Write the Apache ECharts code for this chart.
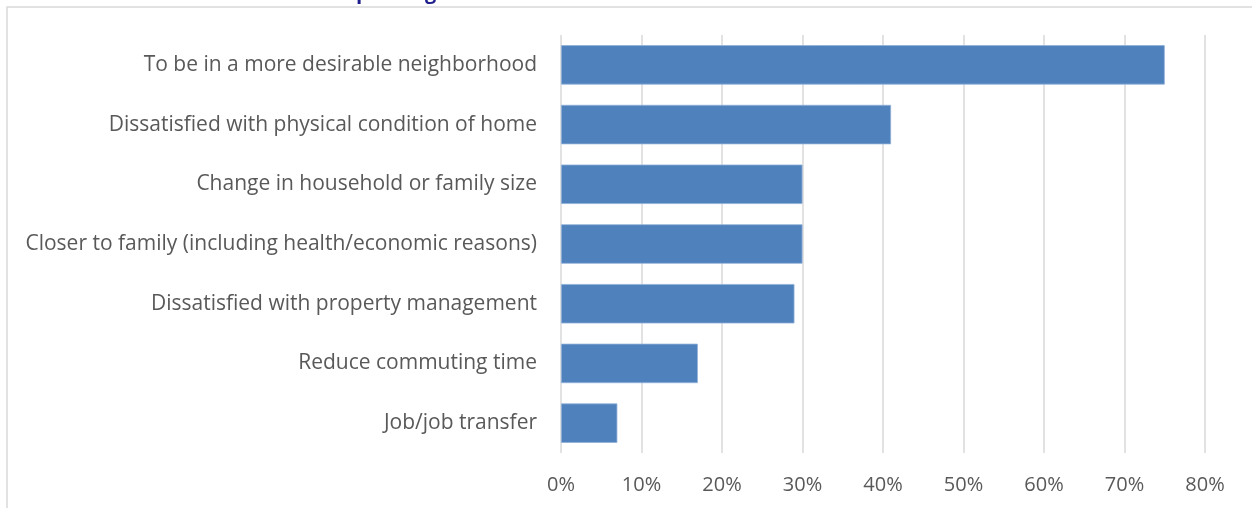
<!DOCTYPE html>
<html>
<head>
<meta charset="utf-8">
<style>
  html, body { margin: 0; padding: 0; background: #fff; }
  #chart { width: 1252px; height: 508px; }
</style>
<script src="https://cdn.jsdelivr.net/npm/echarts@6/dist/echarts.min.js"></script>
</head>
<body>
<div id="chart"></div>
<script>
// Reasons, listed bottom to top as the category axis draws them
const reasons = [
  'Job/job transfer',
  'Reduce commuting time',
  'Dissatisfied with property management',
  'Closer to family (including health/economic reasons)',
  'Change in household or family size',
  'Dissatisfied with physical condition of home',
  'To be in a more desirable neighborhood'
];
// Share of respondents citing each reason (%)
const shares = [7, 17, 29, 30, 30, 41, 75];
// Percentage axis ticks
const tickValues = [0, 10, 20, 30, 40, 50, 60, 70, 80];
const titleText = 'Exhibit 6: Main Reasons for Requesting a Move';

const chart = echarts.init(document.getElementById('chart'), null, { renderer: 'canvas' });

const labelFont = '"Open Sans", "Liberation Sans", sans-serif';

chart.setOption({
  animation: false,
  backgroundColor: '#ffffff',
  graphic: [
    {
      type: 'rect',
      shape: { x: 7, y: 7, width: 1400, height: 700 },
      style: { fill: 'none', stroke: '#d9d9d9', lineWidth: 1.5 },
      silent: true
    },
    {
      type: 'text',
      x: 50,
      y: -6.5,
      style: {
        text: titleText,
        fill: '#1f1f8c',
        font: 'bold 20px ' + labelFont,
        verticalAlign: 'middle'
      },
      silent: true
    }
  ],
  grid: { left: 561, right: 47, top: 35, bottom: 55, containLabel: false },
  xAxis: {
    type: 'value',
    min: tickValues[0],
    max: tickValues[tickValues.length - 1],
    interval: 10,
    axisLine: { show: false },
    axisTick: { show: false },
    splitLine: { show: true, lineStyle: { color: '#d9d9d9', width: 1.5 } },
    axisLabel: {
      formatter: v => v + '%',
      color: '#595959',
      fontSize: 20,
      fontFamily: labelFont,
      margin: 22
    }
  },
  yAxis: {
    type: 'category',
    data: reasons,
    axisLine: { show: false },
    axisTick: { show: false },
    splitLine: { show: false },
    axisLabel: {
      color: '#595959',
      fontSize: 21,
      fontFamily: labelFont,
      margin: 24,
      lineHeight: 26,
      padding: [6, 0, 0, 0]
    }
  },
  series: [{
    type: 'bar',
    data: shares,
    barCategoryGap: '34%',
    itemStyle: { color: '#4f81bd', borderColor: '#8fb0d8', borderWidth: 0.8 }
  }]
});
</script>
</body>
</html>
